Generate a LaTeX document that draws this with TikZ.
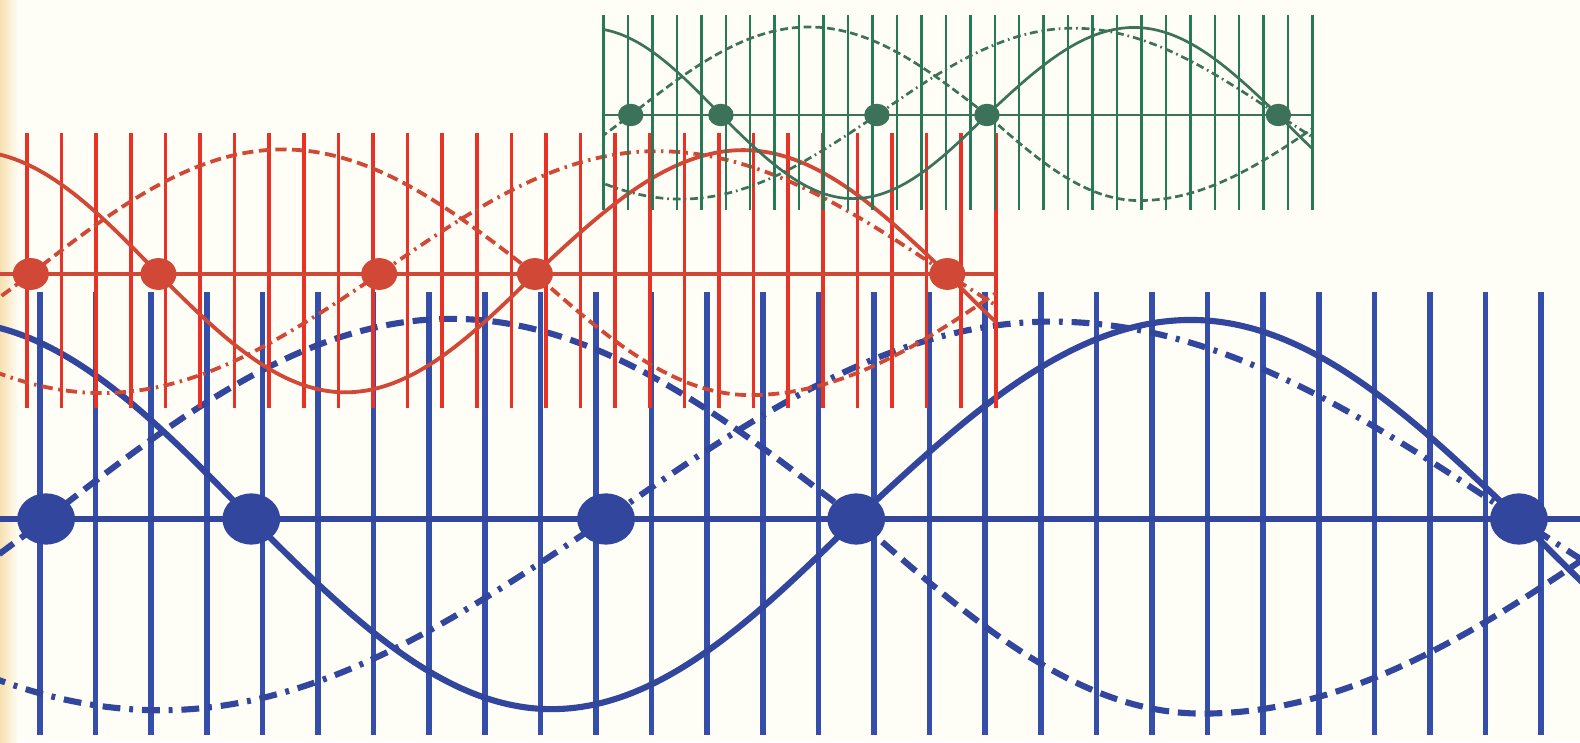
\documentclass[tikz,border=0pt]{standalone}
\usepackage{xcolor}
\usepackage{tikz}
\definecolor{paper}{RGB}{255,254,246}
\definecolor{paperedge}{RGB}{246,224,176}
\definecolor{bluerod}{RGB}{52,78,170}
\definecolor{blueline}{RGB}{50,70,158}
\definecolor{redrod}{RGB}{232,50,38}
\definecolor{redline}{RGB}{210,72,55}
\definecolor{greenrod}{RGB}{38,122,88}
\definecolor{greenline}{RGB}{60,114,90}

\begin{document}
\begin{tikzpicture}[x=1pt, y=1pt,
    rod/.style={line width=\rodw pt},
    axisline/.style={line width=\axw pt},
    wave/.style={line width=\wavew pt},
    longdash/.style={wave, dash pattern=on \dashon pt off \dashoff pt},
    dashdot/.style={wave, dash pattern=on \dashon pt off \dashoff pt on \dashdotl pt off \dashoff pt}
  ]
  % paper
  \fill[paper] (0,0) rectangle (1580,742);
  \shade[left color=paperedge, right color=paper] (0,0) rectangle (18,742);
  \useasboundingbox (0,0) rectangle (1580,742);
  \clip (0,0) rectangle (1580,742);

  % the same figure three times: blue, red, green
  \foreach \rc/\lc/\ox/\oy/\s in {bluerod/blueline/40/223/55.6,
                                  redrod/redline/27/468/34.6,
                                  greenrod/greenline/628/627/24.45}{
    \pgfmathsetmacro\rodw{0.1*\s}
    \pgfmathsetmacro\axw{0.09*\s}
    \pgfmathsetmacro\wavew{0.11*\s}
    \pgfmathsetmacro\dashon{0.32*\s}
    \pgfmathsetmacro\dashoff{0.16*\s}
    \pgfmathsetmacro\dashdotl{0.07*\s}
    \begin{scope}[shift={(\ox,\oy)}, x=\s pt, y=\s pt]
      \foreach \i in {-1,...,28}
        \draw[rod, \rc] (\i,-3.88) -- (\i,4.08);
      \draw[axisline, \lc] (-1,0) -- (28,0);
      \begin{scope}
        \clip (-1,-5) rectangle (28,5);
        \draw[wave, \lc] (-1.6,3.55) cos (3.8,0) sin (9.2,-3.42) cos (14.68,0)
          sin (20.7,3.58) cos (26.6,0) sin (32,-3.5);
        \draw[longdash, \lc] (-7.2,-3.5) cos (0.11,0) sin (7.4,3.6) cos (14.68,0)
          sin (20.9,-3.5) cos (28.8,0);
        \draw[dashdot, \lc] (-5.84,0) sin (2.16,-3.44) cos (10.18,0) sin (18.2,3.55)
          cos (26.6,0) sin (35,-3.5);
      \end{scope}
      \foreach \u in {0.11,3.8,10.18,14.68,26.6}
        \fill[\lc] (\u,0) ellipse [x radius=0.52, y radius=0.46];
    \end{scope}
  }
\end{tikzpicture}
\end{document}
